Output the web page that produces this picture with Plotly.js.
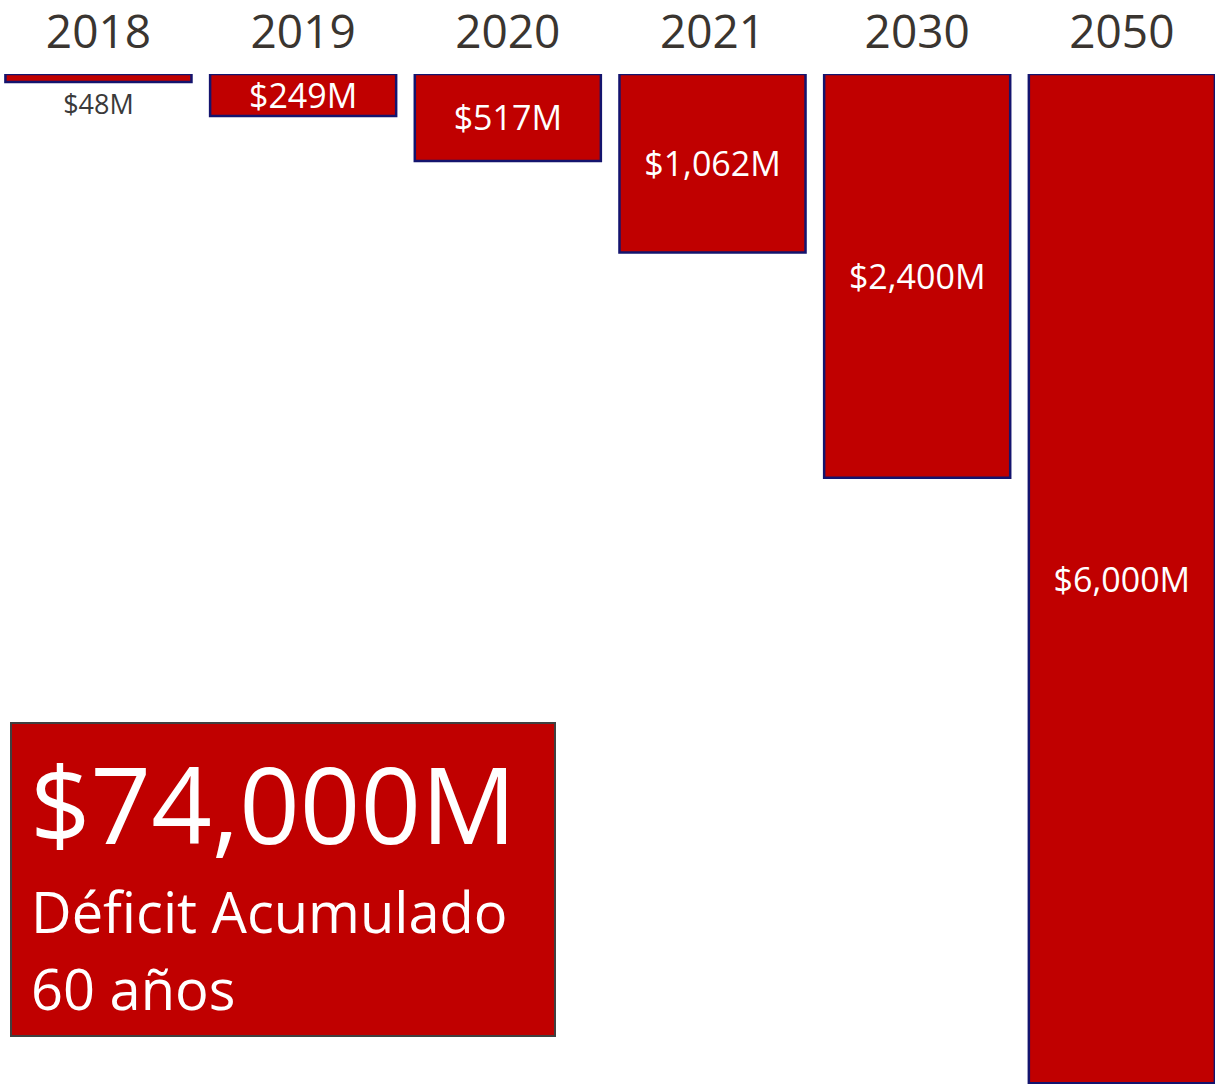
<!DOCTYPE html>
<html>
<head>
<meta charset="utf-8">
<script src="https://cdn.plot.ly/plotly-3.0.1.min.js"></script>
<style>
html,body{margin:0;padding:0;background:#fff;overflow:hidden;}
#chart{width:1215px;height:1084px;}
</style>
</head>
<body>
<div id="chart"></div>
<script>
// Data
const years = ['2018', '2019', '2020', '2021', '2030', '2050'];
const deficitMillions = [48, 249, 517, 1062, 2400, 6000];
const valueLabels = ['$48M', '$249M', '$517M', '$1,062M', '$2,400M', '$6,000M'];
const totalLabel = '$74,000M';
const totalLine1 = 'Déficit Acumulado';
const totalLine2 = '60 años';

const FONT = '"Open Sans", "Noto Sans", sans-serif';
const RED = '#c00000';

const trace = {
  type: 'bar',
  x: years,
  y: deficitMillions,
  text: valueLabels,
  textposition: deficitMillions.map(v => v < 100 ? 'outside' : 'inside'),
  insidetextanchor: 'middle',
  constraintext: 'none',
  cliponaxis: false,
  textfont: {
    family: FONT,
    size: deficitMillions.map(v => v < 100 ? 27 : 34),
    color: deficitMillions.map(v => v < 100 ? '#3a3a3a' : '#ffffff')
  },
  marker: { color: RED, line: { color: '#14146e', width: 2.5 } },
  hoverinfo: 'skip'
};

const layout = {
  width: 1215,
  height: 1084,
  margin: { l: 0, r: 0, t: 74, b: 0, pad: 0 },
  paper_bgcolor: '#ffffff',
  plot_bgcolor: '#ffffff',
  showlegend: false,
  bargap: 0.091,
  xaxis: {
    type: 'category',
    side: 'top',
    range: [-0.481, 5.455],
    showgrid: false,
    zeroline: false,
    showline: false,
    ticks: 'outside',
    ticklen: 7,
    tickcolor: 'rgba(0,0,0,0)',
    tickfont: { family: FONT, size: 46, color: '#3a3530' },
    fixedrange: true
  },
  yaxis: {
    range: [6005, 0],
    showgrid: false,
    zeroline: false,
    showline: false,
    showticklabels: false,
    ticks: '',
    fixedrange: true
  },
  shapes: [{
    type: 'rect', xref: 'paper', yref: 'paper',
    x0: 11 / 1215, x1: 555 / 1215,
    y0: (1084 - 1036) / 1010, y1: (1084 - 723) / 1010,
    fillcolor: RED, line: { color: '#404040', width: 2 }, layer: 'above'
  }],
  annotations: [
    { text: totalLabel, xref: 'paper', yref: 'paper', x: 28 / 1215, y: (1084 - 803) / 1010,
      xanchor: 'left', yanchor: 'middle', showarrow: false,
      font: { family: FONT, size: 106, color: '#ffffff' } },
    { text: totalLine1, xref: 'paper', yref: 'paper', x: 29 / 1215, y: (1084 - 911) / 1010,
      xanchor: 'left', yanchor: 'middle', showarrow: false,
      font: { family: FONT, size: 56, color: '#ffffff' } },
    { text: totalLine2, xref: 'paper', yref: 'paper', x: 29 / 1215, y: (1084 - 988) / 1010,
      xanchor: 'left', yanchor: 'middle', showarrow: false,
      font: { family: FONT, size: 56, color: '#ffffff' } }
  ]
};

Plotly.newPlot('chart', [trace], layout, { displayModeBar: false, staticPlot: true });
</script>
</body>
</html>
